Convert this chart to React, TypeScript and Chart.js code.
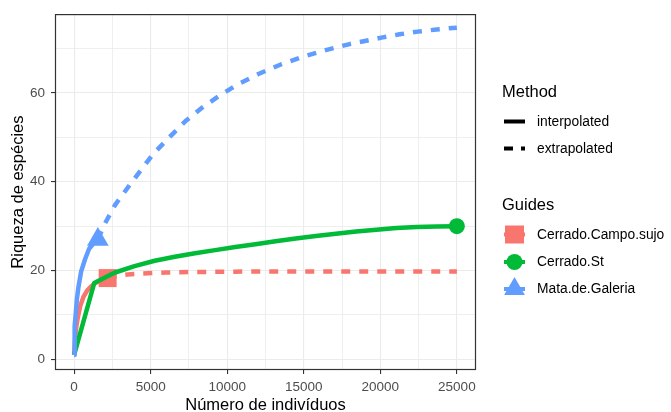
import React, { useEffect, useRef } from 'react';
import { Chart, registerables } from 'chart.js';

Chart.register(...registerables);

const FONT = '"Liberation Sans", Arial, Helvetica, sans-serif';

// ---- Data ----
const groups = ['Cerrado.Campo.sujo', 'Cerrado.St', 'Mata.de.Galeria'];
const methods = ['interpolated', 'extrapolated'];

// Cerrado.Campo.sujo
const campoInterpX = [1, 60, 150, 250, 400, 600, 850, 1100, 1400, 1750, 2190];
const campoInterpY = [1, 4.5, 7.5, 9.6, 12, 14, 15.5, 16.4, 17.2, 17.8, 18.3];
const campoExtrapX = [2190, 2800, 3500, 4500, 6000, 8000, 10500, 13000, 16000, 19000, 22000, 25000];
const campoExtrapY = [18.3, 18.8, 19.1, 19.35, 19.55, 19.68, 19.75, 19.78, 19.8, 19.8, 19.8, 19.8];
const campoObs = { x: 2190, y: 18.3 };

// Cerrado.St
const stInterpX = [1, 1316, 2632, 3947, 5263, 6579, 7895, 9211, 10526, 11842, 13158, 14474, 15789, 17105, 18421, 19737, 21053, 22368, 23684, 25000];
const stInterpY = [1, 17.2, 19.5, 21.0, 22.2, 23.1, 23.9, 24.6, 25.3, 25.9, 26.6, 27.2, 27.8, 28.3, 28.8, 29.2, 29.6, 29.8, 29.9, 30.0];
const stObs = { x: 25000, y: 30.0 };

// Mata.de.Galeria
const mataInterpX = [1, 20, 50, 100, 180, 280, 460, 720, 980, 1250, 1550];
const mataInterpY = [1, 4, 7.5, 10, 13.5, 16.2, 19.8, 22.6, 24.9, 26.0, 27.0];
const mataExtrapX = [1550, 2000, 2680, 3660, 4450, 5170, 6280, 7260, 8370, 9420, 10670, 12000, 13500, 15000, 16500, 18000, 20150, 21260, 22440, 23690, 25000];
const mataExtrapY = [27.0, 30.5, 34.8, 39.4, 43.0, 46.3, 50.2, 53.6, 56.7, 59.2, 61.9, 64.2, 66.4, 68.2, 69.7, 71.0, 72.5, 73.2, 73.8, 74.3, 74.7];
const mataObs = { x: 1550, y: 27.0 };

// ---- Axis ticks ----
const xMajorTicks = [0, 5000, 10000, 15000, 20000, 25000];
const xMinorTicks = [2500, 7500, 12500, 17500, 22500];
const yMajorTicks = [0, 20, 40, 60];
const yMinorTicks = [10, 30, 50, 70];
const xTitle = 'Número de indivíduos';
const yTitle = 'Riqueza de espécies';
const legendMethodTitle = 'Method';
const legendGuideTitle = 'Guides';

const colors = ['#F8766D', '#00BA38', '#619CFF'];
const shapes = ['rect', 'circle', 'triangle'];

const zip = (xs: number[], ys: number[]) => xs.map((x, i) => ({ x, y: ys[i] }));

export default function App() {
  const ref = useRef<HTMLCanvasElement>(null);

  useEffect(() => {
    const canvas = ref.current;
    if (!canvas) return;

    const LW = 4.5;
    const DASH = [9, 9];

    const lineDs = (label: string, data: any[], color: string, dashed: boolean, order: number) => ({
      label,
      data,
      borderColor: color,
      backgroundColor: color,
      borderWidth: LW,
      borderDash: dashed ? DASH : [],
      borderCapStyle: 'butt',
      borderJoinStyle: 'round',
      pointRadius: 0,
      pointHoverRadius: 0,
      tension: 0,
      fill: false,
      order,
    });

    const pointDs = (label: string, pt: any, color: string, style: string, radius: number, order: number) => ({
      label,
      data: [pt],
      showLine: false,
      pointStyle: style,
      pointRadius: radius,
      pointHoverRadius: radius,
      pointBackgroundColor: color,
      pointBorderColor: color,
      pointBorderWidth: 0,
      borderColor: color,
      backgroundColor: color,
      order,
    });

    const datasets: any[] = [
      lineDs(groups[2] + ' ' + methods[1], zip(mataExtrapX, mataExtrapY), colors[2], true, 1),
      lineDs(groups[2] + ' ' + methods[0], zip(mataInterpX, mataInterpY), colors[2], false, 2),
      lineDs(groups[1] + ' ' + methods[0], zip(stInterpX, stInterpY), colors[1], false, 3),
      lineDs(groups[0] + ' ' + methods[1], zip(campoExtrapX, campoExtrapY), colors[0], true, 4),
      lineDs(groups[0] + ' ' + methods[0], zip(campoInterpX, campoInterpY), colors[0], false, 5),
      pointDs(groups[2], mataObs, colors[2], shapes[2], 12.5, 6),
      pointDs(groups[1], stObs, colors[1], shapes[1], 8, 7),
      pointDs(groups[0], campoObs, colors[0], shapes[0], 12.7, 8),
    ];

    const overlay = {
      id: 'overlay',
      afterDatasetsDraw(chart: any) {
        const { ctx, chartArea } = chart;
        ctx.save();
        // panel border
        ctx.strokeStyle = '#333333';
        ctx.lineWidth = 1.2;
        ctx.strokeRect(chartArea.left + 0.5, chartArea.top + 0.5, chartArea.right - chartArea.left - 1, chartArea.bottom - chartArea.top - 1);
        ctx.restore();
      },
      afterDraw(chart: any) {
        const { ctx, chartArea } = chart;
        ctx.save();
        ctx.fillStyle = '#000000';
        // axis titles
        ctx.font = `16.5px ${FONT}`;
        ctx.textAlign = 'center';
        ctx.textBaseline = 'alphabetic';
        ctx.fillText(xTitle, (chartArea.left + chartArea.right) / 2, 409.5);
        ctx.save();
        ctx.translate(22.5, (chartArea.top + chartArea.bottom) / 2);
        ctx.rotate(-Math.PI / 2);
        ctx.fillText(yTitle, 0, 0);
        ctx.restore();

        // legend: Method
        const keyL = 504;
        const keyR = 525;
        const keyC = (keyL + keyR) / 2;
        const labelX = 537;
        ctx.textAlign = 'left';
        ctx.textBaseline = 'middle';
        ctx.font = `16.5px ${FONT}`;
        ctx.fillText(legendMethodTitle, 502, 92);
        ctx.font = `13.8px ${FONT}`;
        const methodYs = [121.5, 148.5];
        methods.forEach((m, i) => {
          ctx.save();
          ctx.strokeStyle = '#000000';
          ctx.lineWidth = 4;
          ctx.lineCap = 'butt';
          ctx.setLineDash(i === 1 ? [9, 8] : []);
          ctx.beginPath();
          ctx.moveTo(keyL, methodYs[i]);
          ctx.lineTo(keyR, methodYs[i]);
          ctx.stroke();
          ctx.restore();
          ctx.fillText(m, labelX, methodYs[i] + 0.5);
        });

        // legend: Guides
        ctx.font = `16.5px ${FONT}`;
        ctx.fillText(legendGuideTitle, 502, 205);
        ctx.font = `13.8px ${FONT}`;
        const guideYs = [234.5, 262, 289];
        groups.forEach((g, i) => {
          const y = guideYs[i];
          ctx.save();
          ctx.fillStyle = colors[i];
          ctx.strokeStyle = colors[i];
          ctx.lineWidth = 4;
          ctx.beginPath();
          ctx.moveTo(keyL, y);
          ctx.lineTo(keyR, y);
          ctx.stroke();
          ctx.beginPath();
          if (i === 0) {
            ctx.rect(keyC - 9.5, y - 9, 19, 18);
          } else if (i === 1) {
            ctx.arc(keyC, y, 8, 0, Math.PI * 2);
          } else {
            const r = 12;
            ctx.moveTo(keyC, y - r);
            ctx.lineTo(keyC + r * Math.sin((2 * Math.PI) / 3), y - r * Math.cos((2 * Math.PI) / 3));
            ctx.lineTo(keyC + r * Math.sin((4 * Math.PI) / 3), y - r * Math.cos((4 * Math.PI) / 3));
            ctx.closePath();
          }
          ctx.fill();
          ctx.restore();
          ctx.fillText(g, labelX, y + 0.5);
        });
        ctx.restore();
      },
    };

    const isMajorX = (v: number) => xMajorTicks.includes(v);
    const isMajorY = (v: number) => yMajorTicks.includes(v);

    const chart = new Chart(canvas, {
      type: 'line',
      data: { datasets },
      options: {
        responsive: false,
        animation: false,
        devicePixelRatio: 1,
        layout: { padding: { left: 0, top: 12, right: 195, bottom: 0 } },
        plugins: {
          legend: { display: false },
          tooltip: { enabled: false },
          title: { display: false },
        },
        scales: {
          x: {
            type: 'linear',
            min: -1249,
            max: 26250,
            afterFit: (s: any) => { s.height = 42; },
            afterBuildTicks: (s: any) => {
              s.ticks = [...xMajorTicks, ...xMinorTicks].sort((a, b) => a - b).map((v) => ({ value: v }));
            },
            ticks: {
              autoSkip: false,
              maxRotation: 0,
              padding: 5,
              color: '#4D4D4D',
              font: { family: FONT, size: 13.5 },
              callback: (v: any) => (isMajorX(Number(v)) ? String(v) : ''),
            },
            grid: {
              color: '#EBEBEB',
              lineWidth: (c: any) => (c.tick && isMajorX(c.tick.value) ? 1.1 : 0.8),
              drawTicks: true,
              tickLength: 4,
              tickWidth: 1.1,
              tickColor: (c: any) => (c.tick && isMajorX(c.tick.value) ? '#333333' : 'rgba(0,0,0,0)'),
            },
            border: { display: false },
          },
          y: {
            type: 'linear',
            min: -2.4,
            max: 77.75,
            afterFit: (s: any) => { s.width = 55; },
            afterBuildTicks: (s: any) => {
              s.ticks = [...yMajorTicks, ...yMinorTicks].sort((a, b) => a - b).map((v) => ({ value: v }));
            },
            ticks: {
              autoSkip: false,
              padding: 6,
              color: '#4D4D4D',
              font: { family: FONT, size: 13.5 },
              callback: (v: any) => (isMajorY(Number(v)) ? String(v) : ''),
            },
            grid: {
              color: '#EBEBEB',
              lineWidth: (c: any) => (c.tick && isMajorY(c.tick.value) ? 1.1 : 0.8),
              drawTicks: true,
              tickLength: 4,
              tickWidth: 1.1,
              tickColor: (c: any) => (c.tick && isMajorY(c.tick.value) ? '#333333' : 'rgba(0,0,0,0)'),
            },
            border: { display: false },
          },
        },
      } as any,
      plugins: [overlay],
    });

    return () => chart.destroy();
  }, []);

  return (
    <div style={{ position: 'fixed', left: 0, top: 0, width: 671, height: 412, background: '#ffffff' }}>
      <canvas ref={ref} width={671} height={412} style={{ width: 671, height: 412, display: 'block' }} />
    </div>
  );
}
